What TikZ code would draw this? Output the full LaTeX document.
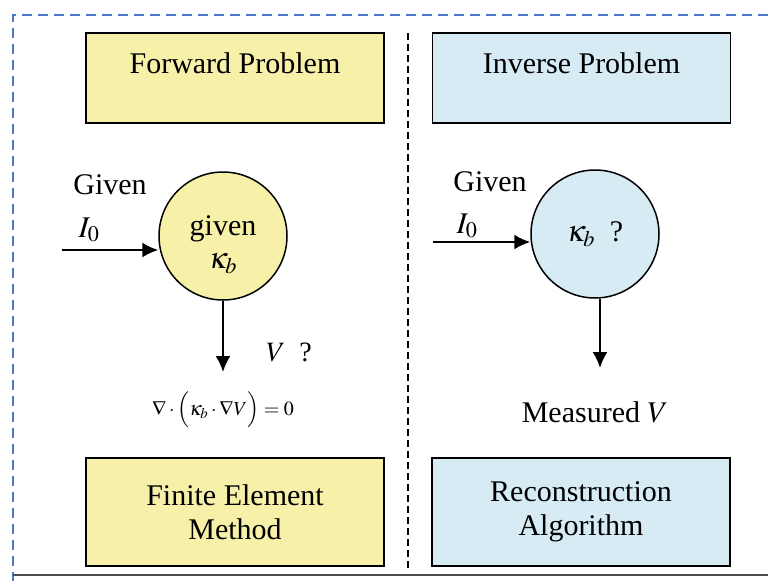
\documentclass[tikz,border=0pt]{standalone}
\usepackage{mathptmx}
\usepackage[no-math]{fontspec}
\setmainfont{Liberation Serif}
\usetikzlibrary{positioning,arrows.meta}
\definecolor{FwdYellow}{HTML}{F6F0A8}
\definecolor{InvBlue}{HTML}{D6EBF4}
\definecolor{FrameBlue}{HTML}{4A78D0}

\begin{document}
\begin{tikzpicture}[x=1pt, y=-1pt, >={Latex[length=16pt,width=15pt]},
                    probbox/.style={draw=black, line width=1.5pt, minimum width=298pt,
                                    inner sep=0pt, align=center,
                                    font=\fontsize{30}{34}\selectfont},
                    headbox/.style={probbox, minimum height=90pt, text height=40pt, text depth=50pt},
                    methbox/.style={probbox, minimum height=108pt},
                    bubble/.style={circle, draw=black, line width=1.5pt, minimum size=128pt,
                                   inner sep=0pt, align=center,
                                   font=\fontsize{30}{33}\selectfont},
                    lbl/.style={inner sep=0pt, font=\fontsize{30}{34}\selectfont},
                    flow/.style={->, line width=2pt}]
\useasboundingbox (0,0) rectangle (768,581);
% outer frame and divider
\draw[FrameBlue, line width=2pt, dash pattern=on 10pt off 6pt] (768,15) -- (13,15) -- (13,581);
\draw[black!70, line width=1.5pt] (13,575) -- (768,575);
\draw[black, line width=1.5pt, dash pattern=on 7pt off 4pt] (408,33) -- (408,570);

% boxes
\node[headbox, fill=FwdYellow] (fwd) at (235,78) {Forward Problem};
\node[headbox, fill=InvBlue, right=47pt of fwd] (inv) {Inverse Problem};
\node[methbox, fill=FwdYellow] (fem) at (235,512) {Finite Element\\Method};
\node[methbox, fill=InvBlue] (rec) at (581,512) {Reconstruction\\Algorithm};

% forward side
\node[bubble, fill=FwdYellow] (lcirc) at (223,236) {\rule{0pt}{38pt}given\\$\kappa_b$};
\node[lbl] (lgiven) at (110,185) {Given};
\node[lbl] (lcur) at (89,230) {$I_0$};
\coordinate (lin) at (62,250);
\coordinate (lout) at (223,372);
\node[lbl, font=\fontsize{28}{32}\selectfont] (vq) at (289,352) {$V$\ \ ?};
\node[lbl, font=\fontsize{20}{24}\selectfont] (pde) at (223,410)
  {$\nabla\cdot\Big(\kappa_b\cdot\nabla V\Big)=0$};
\draw[flow] (lin) -- (lcirc.west |- lin);
\draw[flow] (lcirc) -- (lout);

% inverse side
\node[bubble, fill=InvBlue] (rcirc) at (595,234) {$\kappa_b$\ \ ?};
\node[lbl] (rgiven) at (490,182) {Given};
\node[lbl] (rcur) at (467,226) {$I_0$};
\coordinate (rin) at (433,242);
\coordinate (rout) at (600,368);
\node[lbl] (meas) at (595,412) {Measured $V$};
\draw[flow] (rin) -- (rcirc.west |- rin);
\draw[flow] (rcirc.south -| rout) -- (rout);
\end{tikzpicture}
\end{document}
